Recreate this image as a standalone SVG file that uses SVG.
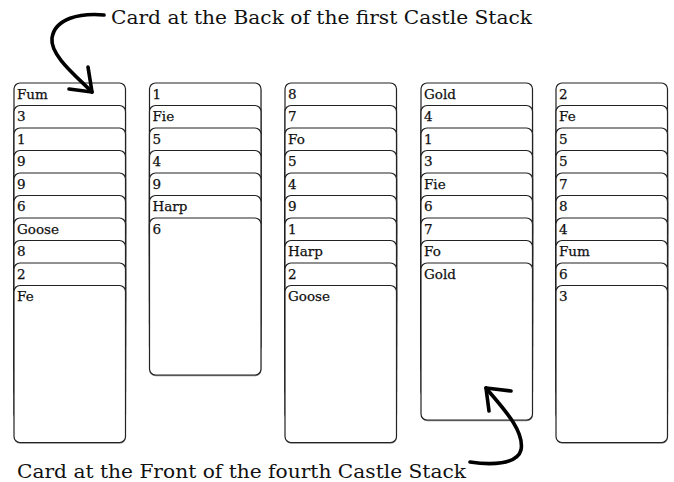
<svg xmlns="http://www.w3.org/2000/svg" width="674" height="482" viewBox="0 0 674 482">
<style>
.card{fill:#fff;stroke:#222;stroke-width:1.2}
.sh{fill:#888}
.lbl{font-family:"DejaVu Serif","Liberation Serif",serif;font-size:13.5px;fill:#111;stroke:#111;stroke-width:0.25}
.note{font-family:"DejaVu Serif","Liberation Serif",serif;font-size:19px;fill:#111}
.arr{fill:none;stroke:#000;stroke-width:3.6;stroke-linecap:round;stroke-linejoin:round}
</style>
<defs>
<g id="c">
<rect class="sh" x="0.3" y="1.3" width="111.5" height="157" rx="6"/>
<rect class="card" x="0" y="0" width="111.5" height="157" rx="6"/>
</g>
</defs>
<rect width="674" height="482" fill="#fff"/>

<g id="stack1">
<g id="s1c1"><use href="#c" x="14" y="83"/><text class="lbl" x="17" y="98.5">Fum</text></g>
<g id="s1c2"><use href="#c" x="14" y="105.5"/><text class="lbl" x="17" y="121">3</text></g>
<g id="s1c3"><use href="#c" x="14" y="128"/><text class="lbl" x="17" y="143.5">1</text></g>
<g id="s1c4"><use href="#c" x="14" y="150.5"/><text class="lbl" x="17" y="166">9</text></g>
<g id="s1c5"><use href="#c" x="14" y="173"/><text class="lbl" x="17" y="188.5">9</text></g>
<g id="s1c6"><use href="#c" x="14" y="195.5"/><text class="lbl" x="17" y="211">6</text></g>
<g id="s1c7"><use href="#c" x="14" y="218"/><text class="lbl" x="17" y="233.5">Goose</text></g>
<g id="s1c8"><use href="#c" x="14" y="240.5"/><text class="lbl" x="17" y="256">8</text></g>
<g id="s1c9"><use href="#c" x="14" y="263"/><text class="lbl" x="17" y="278.5">2</text></g>
<g id="s1c10"><use href="#c" x="14" y="285.5"/><text class="lbl" x="17" y="301">Fe</text></g>
</g>

<g id="stack2">
<g id="s2c1"><use href="#c" x="149.5" y="83"/><text class="lbl" x="152.5" y="98.5">1</text></g>
<g id="s2c2"><use href="#c" x="149.5" y="105.5"/><text class="lbl" x="152.5" y="121">Fie</text></g>
<g id="s2c3"><use href="#c" x="149.5" y="128"/><text class="lbl" x="152.5" y="143.5">5</text></g>
<g id="s2c4"><use href="#c" x="149.5" y="150.5"/><text class="lbl" x="152.5" y="166">4</text></g>
<g id="s2c5"><use href="#c" x="149.5" y="173"/><text class="lbl" x="152.5" y="188.5">9</text></g>
<g id="s2c6"><use href="#c" x="149.5" y="195.5"/><text class="lbl" x="152.5" y="211">Harp</text></g>
<g id="s2c7"><use href="#c" x="149.5" y="218"/><text class="lbl" x="152.5" y="233.5">6</text></g>
</g>

<g id="stack3">
<g id="s3c1"><use href="#c" x="285" y="83"/><text class="lbl" x="288" y="98.5">8</text></g>
<g id="s3c2"><use href="#c" x="285" y="105.5"/><text class="lbl" x="288" y="121">7</text></g>
<g id="s3c3"><use href="#c" x="285" y="128"/><text class="lbl" x="288" y="143.5">Fo</text></g>
<g id="s3c4"><use href="#c" x="285" y="150.5"/><text class="lbl" x="288" y="166">5</text></g>
<g id="s3c5"><use href="#c" x="285" y="173"/><text class="lbl" x="288" y="188.5">4</text></g>
<g id="s3c6"><use href="#c" x="285" y="195.5"/><text class="lbl" x="288" y="211">9</text></g>
<g id="s3c7"><use href="#c" x="285" y="218"/><text class="lbl" x="288" y="233.5">1</text></g>
<g id="s3c8"><use href="#c" x="285" y="240.5"/><text class="lbl" x="288" y="256">Harp</text></g>
<g id="s3c9"><use href="#c" x="285" y="263"/><text class="lbl" x="288" y="278.5">2</text></g>
<g id="s3c10"><use href="#c" x="285" y="285.5"/><text class="lbl" x="288" y="301">Goose</text></g>
</g>

<g id="stack4">
<g id="s4c1"><use href="#c" x="421" y="83"/><text class="lbl" x="424" y="98.5">Gold</text></g>
<g id="s4c2"><use href="#c" x="421" y="105.5"/><text class="lbl" x="424" y="121">4</text></g>
<g id="s4c3"><use href="#c" x="421" y="128"/><text class="lbl" x="424" y="143.5">1</text></g>
<g id="s4c4"><use href="#c" x="421" y="150.5"/><text class="lbl" x="424" y="166">3</text></g>
<g id="s4c5"><use href="#c" x="421" y="173"/><text class="lbl" x="424" y="188.5">Fie</text></g>
<g id="s4c6"><use href="#c" x="421" y="195.5"/><text class="lbl" x="424" y="211">6</text></g>
<g id="s4c7"><use href="#c" x="421" y="218"/><text class="lbl" x="424" y="233.5">7</text></g>
<g id="s4c8"><use href="#c" x="421" y="240.5"/><text class="lbl" x="424" y="256">Fo</text></g>
<g id="s4c9"><use href="#c" x="421" y="263"/><text class="lbl" x="424" y="278.5">Gold</text></g>
</g>

<g id="stack5">
<g id="s5c1"><use href="#c" x="556" y="83"/><text class="lbl" x="559" y="98.5">2</text></g>
<g id="s5c2"><use href="#c" x="556" y="105.5"/><text class="lbl" x="559" y="121">Fe</text></g>
<g id="s5c3"><use href="#c" x="556" y="128"/><text class="lbl" x="559" y="143.5">5</text></g>
<g id="s5c4"><use href="#c" x="556" y="150.5"/><text class="lbl" x="559" y="166">5</text></g>
<g id="s5c5"><use href="#c" x="556" y="173"/><text class="lbl" x="559" y="188.5">7</text></g>
<g id="s5c6"><use href="#c" x="556" y="195.5"/><text class="lbl" x="559" y="211">8</text></g>
<g id="s5c7"><use href="#c" x="556" y="218"/><text class="lbl" x="559" y="233.5">4</text></g>
<g id="s5c8"><use href="#c" x="556" y="240.5"/><text class="lbl" x="559" y="256">Fum</text></g>
<g id="s5c9"><use href="#c" x="556" y="263"/><text class="lbl" x="559" y="278.5">6</text></g>
<g id="s5c10"><use href="#c" x="556" y="285.5"/><text class="lbl" x="559" y="301">3</text></g>
</g>

<g id="note-back"><text class="note" x="111" y="24" textLength="421" lengthAdjust="spacingAndGlyphs">Card at the Back of the first Castle Stack</text></g>
<g id="note-front"><text class="note" x="17" y="478" textLength="449" lengthAdjust="spacingAndGlyphs">Card at the Front of the fourth Castle Stack</text></g>

<g id="connectors">
<path class="arr" d="M104,15 C80,13 55,18 52,38 C50,55 75,75 92,92"/>
<path class="arr" d="M88,67 L92,92 L69,89"/>
<path class="arr" d="M486,388 C500,405 525,430 521,450 C517,465 490,465 470,462"/>
<path class="arr" d="M489,411 L486,388 L511,391"/>
</g>
</svg>
